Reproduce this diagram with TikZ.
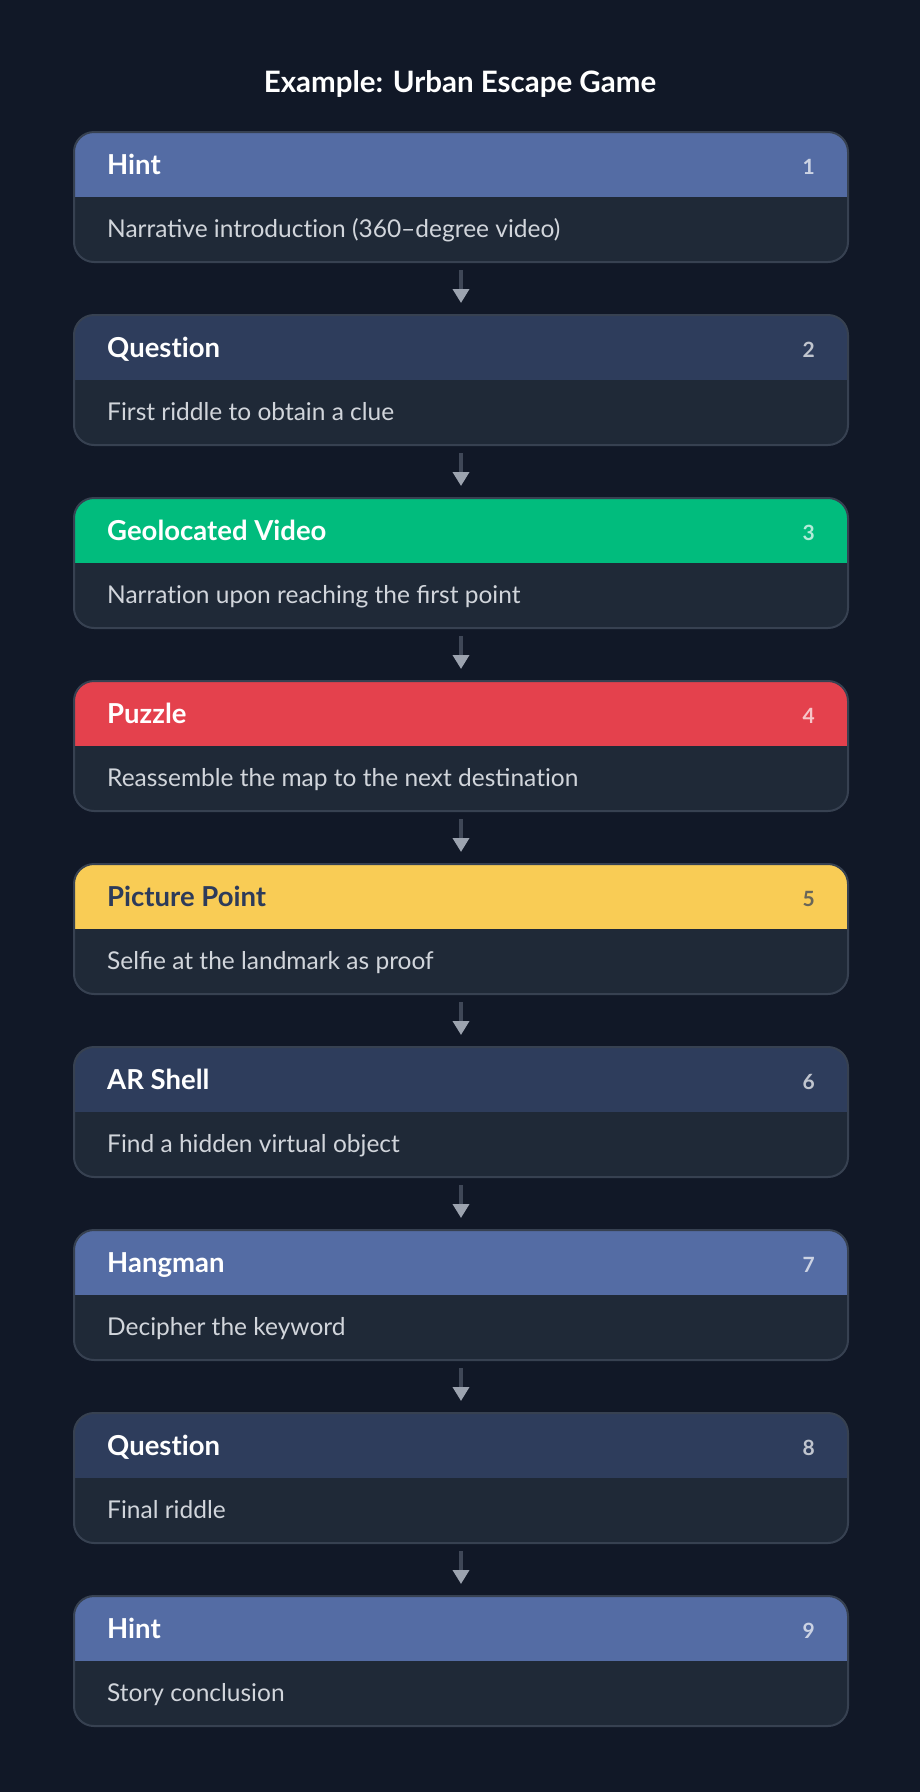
\documentclass[tikz,border=0pt]{standalone}
\usepackage{fontspec}
\setmainfont{Lato}
\usetikzlibrary{arrows.meta}
\definecolor{bg}{HTML}{111827}
\definecolor{bodyc}{HTML}{1F2937}
\definecolor{borderc}{HTML}{374151}
\definecolor{hintc}{RGB}{84,108,164}
\definecolor{questc}{RGB}{46,61,92}
\definecolor{geoc}{RGB}{1,188,125}
\definecolor{puzc}{RGB}{228,65,77}
\definecolor{picc}{RGB}{249,204,85}
\definecolor{darktxt}{RGB}{45,59,90}
\definecolor{bodytxt}{HTML}{D1D5DB}
\definecolor{shaftc}{HTML}{3F4757}
\definecolor{tipc}{HTML}{9CA3AF}
\newcommand{\nolig}{\kern0pt }
\begin{document}
\begin{tikzpicture}[x=1pt,y=-1pt,
  card/.style={draw=borderc, line width=2pt, fill=bodyc, rounded corners=20pt,
    minimum width=774pt, minimum height=130pt, inner sep=0pt, anchor=north west,
    path picture={\fill[#1, sharp corners] (path picture bounding box.north west) rectangle ([yshift=-65pt]path picture bounding box.north east);}},
  hdrtxt/.style={inner sep=0pt, anchor=base west, font=\fontsize{27.5}{32}\selectfont\bfseries, text=white},
  numtxt/.style={inner sep=0pt, anchor=base east, font=\fontsize{21}{25}\selectfont\bfseries, text=white, text opacity=0.7},
  bodytext/.style={inner sep=0pt, anchor=base west, font=\fontsize{24.5}{29}\selectfont, text=bodytxt},
  conn/.style={draw=shaftc, line width=3.5pt, -{Triangle[width=16pt,length=14pt,color=tipc]}}
]
\useasboundingbox[fill=bg] (0,0) rectangle (920,1792);
\node[inner sep=0pt, anchor=base, font=\fontsize{29.5}{34}\selectfont\bfseries, text=white] (title) at (460,92) {Example: Urban Escape Game};

\foreach \i/\c/\h/\b/\tc in {
  1/hintc/Hint/Narrative introduct\nolig ion (360–degree video)/white,
  2/questc/Quest\nolig ion/First riddle to obtain a clue/white,
  3/geoc/Geolocated Video/Narrat\nolig ion upon reaching the first point/white,
  4/puzc/Puzzle/Reassemble the map to the next destinat\nolig ion/white,
  5/picc/Picture Point/Selfie at the landmark as proof/darktxt,
  6/questc/AR Shell/Find a hidden virtual object/white,
  7/hintc/Hangman/Decipher the keyword/white,
  8/questc/Quest\nolig ion/Final riddle/white,
  9/hintc/Hint/Story conclusion/white}{
  \node[card=\c] (b\i) at (73,{131+183*(\i-1)}) {};
  \node[hdrtxt, text=\tc] (h\i) at ([xshift=34pt,yshift=-43pt]b\i.north west) {\h};
  \node[numtxt, text=\tc] (n\i) at ([xshift=-34pt,yshift=-43pt]b\i.north east) {\i};
  \node[bodytext] (t\i) at ([xshift=34pt,yshift=-106pt]b\i.north west) {\b};
}
\foreach \i [evaluate=\i as \j using int(\i+1)] in {1,...,8}{
  \draw[conn] ([yshift=-7pt]b\i.south) -- ([yshift=11pt]b\j.north);
}
\end{tikzpicture}
\end{document}
